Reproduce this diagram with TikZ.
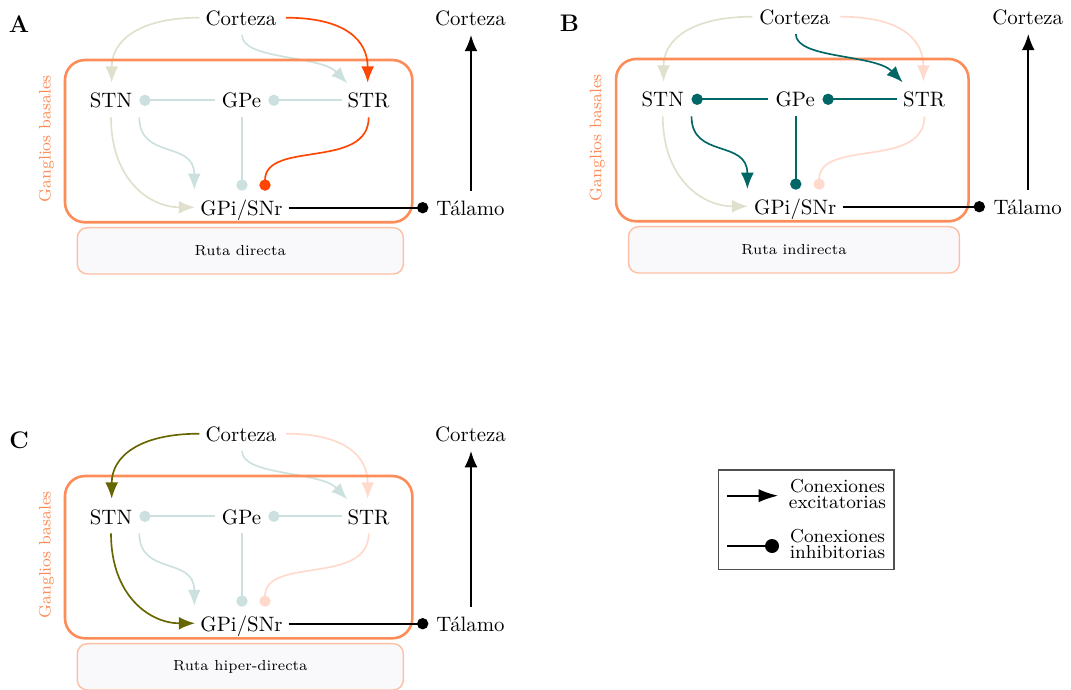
\documentclass[tikz,border=0pt]{standalone}
\usetikzlibrary{arrows.meta}
\definecolor{cdir}{RGB}{255,69,0}
\definecolor{cind}{RGB}{0,102,102}
\definecolor{chyp}{RGB}{102,102,0}
\definecolor{gborange}{RGB}{252,141,89}
\definecolor{rutaedge}{RGB}{253,192,165}
\definecolor{rutafill}{RGB}{249,249,252}
\definecolor{legedge}{RGB}{80,80,80}
\pgfdeclarelayer{under}
\pgfdeclarelayer{boxes}
\pgfsetlayers{under,boxes,main}
\tikzset{
  lbl/.style={inner sep=0pt, anchor=base, font=\fontsize{10}{12}\selectfont},
  plabel/.style={inner sep=0pt, font=\fontsize{11.5}{13}\selectfont\bfseries},
  exc/.style={line width=0.8pt, -{Latex[length=7.8pt,width=6.2pt]}},
  inh/.style={line width=0.8pt, -{Circle[length=5.4pt]}},
  gbbox/.style={draw=gborange, line width=1.25pt, rounded corners=9.6pt},
  rutabox/.style={draw=rutaedge, fill=rutafill, line width=0.7pt, rounded corners=4.8pt},
  rutatxt/.style={inner sep=0pt, font=\scriptsize},
  gbtxt/.style={inner sep=0pt, rotate=90, text=gborange, font=\footnotesize},
  legtxt/.style={inner sep=0pt, anchor=north, align=center, font=\fontsize{9}{7.5}\selectfont},
}
% #1 prefix, #2 letter, #3 direct colour, #4 its layer, #5 indirect colour, #6 its layer,
% #7 hyperdirect colour, #8 its layer, #9 pathway name
\newcommand\bgpanel[9]{%
  \begin{pgfonlayer}{boxes}
  \draw[gbbox] (65,60) rectangle (412.3,222.3);
  \draw[rutabox] (77.3,227.7) rectangle (403.3,274);
  \end{pgfonlayer}
  \node[rutatxt] (#1ruta) at (240.3,250.5) {#9};
  \node[gbtxt] (#1gb) at (46.5,138.7) {Ganglios basales};
  \node[plabel] (#1lab) at (19,24.5) {#2};
  \node[lbl] (#1ctx) at (241,25.7) {Corteza};
  \node[lbl] (#1ctxr) at (470.5,25.7) {Corteza};
  \node[lbl] (#1stn) at (111,108) {STN};
  \node[lbl] (#1gpe) at (241.5,108) {GPe};
  \node[lbl] (#1str) at (368.5,108) {STR};
  \node[lbl] (#1gpi) at (241.5,215) {GPi/SNr};
  \node[lbl] (#1tal) at (470.5,215) {T\'alamo};
  % hyperdirect
  \begin{pgfonlayer}{#8}
  \draw[exc,#7] ([shift={(-41.7,-8)}]#1ctx.base) .. controls +(-59.3,0) and +(0,-42.7) .. ([shift={(0.7,-25.3)}]#1stn.base);
  \draw[exc,#7] ([shift={(0,9.3)}]#1stn.base) .. controls +(0,62.7) and +(-45,0) .. ([shift={(-46.5,-7.7)}]#1gpi.base);
  \end{pgfonlayer}
  % indirect
  \begin{pgfonlayer}{#6}
  \draw[exc,#5] ([shift={(1,9.3)}]#1ctx.base) .. controls +(0,25) and +(-27.3,-28.3) .. ([shift={(-21.2,-24.7)}]#1str.base);
  \draw[inh,#5] ([shift={(-26.8,-7.7)}]#1str.base) -- ([shift={(26.8,-7.7)}]#1gpe.base);
  \draw[inh,#5] ([shift={(-26.5,-7.7)}]#1gpe.base) -- ([shift={(28.3,-7.7)}]#1stn.base);
  \draw[exc,#5] ([shift={(28.3,9.3)}]#1stn.base) .. controls +(0,42.7) and +(0,-50) .. ([shift={(-47.2,-25)}]#1gpi.base);
  \draw[inh,#5] ([shift={(0.5,9.3)}]#1gpe.base) -- ([shift={(0.5,-24.3)}]#1gpi.base);
  \end{pgfonlayer}
  % direct
  \begin{pgfonlayer}{#4}
  \draw[exc,#3] ([shift={(45,-8)}]#1ctx.base) .. controls +(59,0) and +(0,-42.7) .. ([shift={(-0.8,-25.3)}]#1str.base);
  \draw[inh,#3] ([shift={(0.2,9.3)}]#1str.base) .. controls +(0,52.7) and +(0,-50.7) .. ([shift={(23.5,-24.3)}]#1gpi.base);
  \end{pgfonlayer}
  % thalamic loop
  \draw[inh,black,line width=0.9pt] ([shift={(47.2,-7.3)}]#1gpi.base) -- ([shift={(-42.2,-7.3)}]#1tal.base);
  \draw[exc,black] ([shift={(0.5,-24.3)}]#1tal.base) -- ([shift={(0.5,9.3)}]#1ctxr.base);
}
\begin{document}
\begin{tikzpicture}[x=0.48pt,y=-0.48pt]
  \useasboundingbox (0,0) rectangle (1071,689);
  \bgpanel{A}{A}{cdir}{main}{cind!20}{under}{chyp!20}{under}{Ruta directa}
  \begin{scope}[shift={(550.1,-1)},xscale=1.015]
    \bgpanel{B}{B}{cdir!20}{under}{cind}{main}{chyp!20}{under}{Ruta indirecta}
  \end{scope}
  \begin{scope}[shift={(0,416)}]
    \bgpanel{C}{C}{cdir!20}{under}{cind!20}{under}{chyp}{main}{Ruta hiper-directa}
  \end{scope}
  % legend
  \draw[legedge,line width=0.5pt] (718.3,470) rectangle (894,569.3);
  \coordinate (le1) at (727.3,495.7);
  \coordinate (le2) at (778.3,495.7);
  \coordinate (li1) at (727.3,546);
  \coordinate (li2) at (779,546);
  \draw[line width=1pt,-{Latex[length=9.5pt,width=6.4pt]}] (le1) -- (le2);
  \draw[line width=0.65pt,-{Circle[length=6.7pt]}] (li1) -- (li2);
  \node[legtxt] (lexc) at (837.5,478.9) {Conexiones\\excitatorias};
  \node[legtxt] (linh) at (837.5,528.9) {Conexiones\\inhibitorias};
\end{tikzpicture}
\end{document}
